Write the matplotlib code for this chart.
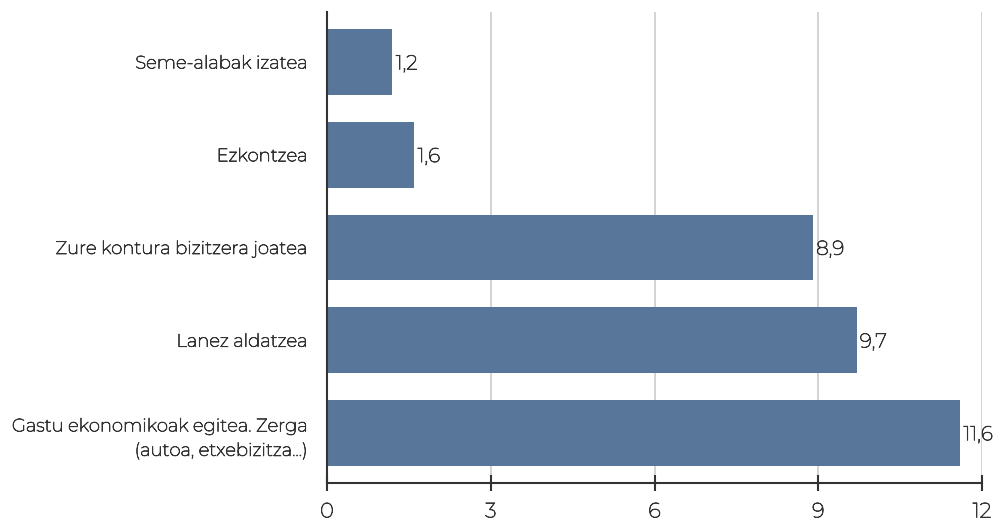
import matplotlib
matplotlib.use("Agg")
import matplotlib.pyplot as plt
import matplotlib.patheffects as pe

categories = [
    "Seme-alabak izatea",
    "Ezkontzea",
    "Zure kontura bizitzera joatea",
    "Lanez aldatzea",
    "Gastu ekonomikoak egitea. Zerga\n(autoa, etxebizitza...)",
]
values = [1.2, 1.6, 8.9, 9.7, 11.6]
xticks = [0, 3, 6, 9, 12]

plt.rcParams["font.family"] = ["Montserrat", "DejaVu Sans"]

text_color = "#333333"
# thicken the light default instance of the variable font to a regular-looking weight
stroke = [pe.withStroke(linewidth=0.55, foreground=text_color)]

fig = plt.figure(figsize=(9.96, 5.21), dpi=100)
ax = fig.add_axes([0.3283, 0.0729, 0.6577, 0.9041])

bar_color = "#57769a"
pos = list(range(len(categories)))
ax.barh(pos, values, height=0.71, color=bar_color, zorder=3)

for p, v in zip(pos, values):
    ax.text(v + 0.06, p + 0.02, f"{v:.1f}".replace(".", ","), va="center", ha="left",
            fontsize=14.5, color=text_color, path_effects=stroke)

ax.set_ylim(len(categories) - 0.46, -0.54)
ax.set_xlim(0, 12)
ax.set_xticks(xticks)
ax.set_xticklabels([str(t) for t in xticks], fontsize=15, color=text_color)
ax.set_yticks(pos)
ax.set_yticklabels(categories, fontsize=13, color=text_color, linespacing=1.65)
for lbl in ax.get_yticklabels():
    lbl.set_multialignment("right")
    lbl.set_path_effects(stroke)
for lbl in ax.get_xticklabels():
    lbl.set_path_effects(stroke)

ax.grid(axis="x", color="#cccccc", linewidth=1.2, zorder=0)
ax.grid(axis="y", visible=False)
for side in ["top", "right"]:
    ax.spines[side].set_visible(False)
ax.spines["left"].set_color("#333333")
ax.spines["left"].set_linewidth(1.5)
ax.spines["left"].set_zorder(4)
ax.spines["bottom"].set_color("#333333")
ax.spines["bottom"].set_linewidth(1.5)
ax.tick_params(axis="y", length=0, pad=14)
ax.tick_params(axis="x", direction="inout", length=12, width=1.5, color="#333333", pad=8)

fig.savefig("out.png", dpi=100)
